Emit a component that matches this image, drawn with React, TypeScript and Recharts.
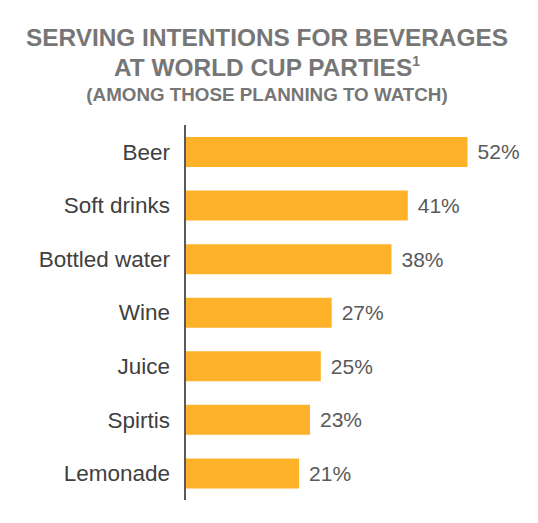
import { BarChart, Bar, XAxis, YAxis, LabelList } from "recharts";

const categories = ["Beer", "Soft drinks", "Bottled water", "Wine", "Juice", "Spirtis", "Lemonade"];
const shares = [52, 41, 38, 27, 25, 23, 21];

const data = categories.map((name, i) => ({ name, share: shares[i] }));

const FONT = '"Liberation Sans", Arial, sans-serif';

const App = () => {
  return (
    <div style={{ position: "absolute", left: 0, top: 0, width: 538, height: 523, background: "#fff", fontFamily: FONT }}>
      <svg width={538} height={120} style={{ position: "absolute", left: 0, top: 0 }}>
        <g fill="#767676" fontWeight="bold" textAnchor="middle" fontFamily={FONT}>
          <text x={267} y={46} fontSize={24.4}>SERVING INTENTIONS FOR BEVERAGES</text>
          <text x={267} y={76} fontSize={24.4}>
            AT WORLD CUP PARTIES<tspan fontSize={14} dy={-10}>1</tspan>
          </text>
          <text x={267} y={101} fontSize={18.8}>(AMONG THOSE PLANNING TO WATCH)</text>
        </g>
      </svg>
      <div style={{ position: "absolute", left: 0, top: 0 }}>
        <BarChart
          width={538}
          height={523}
          layout="vertical"
          data={data}
          margin={{ top: 125, right: 27, bottom: 23, left: 0 }}
        >
          <XAxis type="number" domain={[0, 60]} hide />
          <YAxis
            type="category"
            dataKey="name"
            width={185}
            axisLine={{ stroke: "#595959", strokeWidth: 2 }}
            tickLine={false}
            tickMargin={9}
            tick={{ fill: "#404040", fontSize: 22.5, fontFamily: FONT }}
          />
          <Bar dataKey="share" fill="#FDB22A" barSize={30} isAnimationActive={false}>
            <LabelList
              dataKey="share"
              position="right"
              offset={10}
              fill="#595959"
              fontSize={21}
              fontFamily={FONT}
              formatter={(v: number) => `${v}%`}
            />
          </Bar>
        </BarChart>
      </div>
    </div>
  );
};

export default App;
